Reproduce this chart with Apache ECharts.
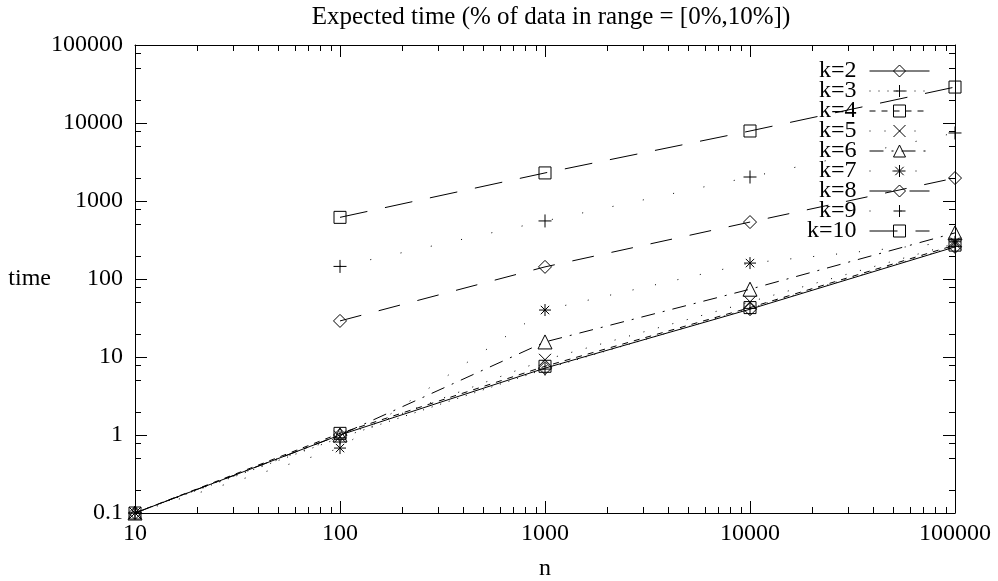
<!DOCTYPE html>
<html>
<head>
<meta charset="utf-8">
<title>Expected time</title>
<script src="https://cdn.jsdelivr.net/npm/echarts@6/dist/echarts.min.js"></script>
<style>
    html, body { margin: 0; padding: 0; background: #fff; }
    #main { width: 998px; height: 581px; }
</style>
</head>
<body>
<div id="main"></div>
<script>
// n 轴取值
var nValues = [10, 100, 1000, 10000, 100000];

// 各 k 的耗时
var k2 = [0.1, 1.0, 7.2, 41, 258];
var k3 = [0.1, 0.92, 7.0, 42, 262];
var k4 = [0.1, 1.05, 7.6, 43, 272];
var k5 = [0.1, 0.95, 9.2, 51, 285];
var k6 = [0.1, 1.0, 15.6, 74, 390];
var k7 = [0.1, 0.68, 40, 160, 300];
var k8 = ['-', 29, 143, 537, 1970];
var k9 = ['-', 145, 555, 2030, 7450];
var k10 = ['-', 617, 2290, 7900, 28900];

// 坐标轴范围
var xMin = 10, xMax = 100000;
var yMin = 0.1, yMax = 100000;

// 次刻度（每个数量级内的倍数）
var xMinorMult = [2, 3, 4, 5, 6, 7, 8, 9];
var yMinorMult = [2, 5, 8];

var FONT = "'Liberation Serif', 'DejaVu Serif', serif";

function toPairs(vals) {
    var out = [];
    for (var i = 0; i < nValues.length; i++) {
        out.push([nValues[i], vals[i]]);
    }
    return out;
}

function minorTicks(lo, hi, mult) {
    var out = [];
    for (var d = lo; d < hi; d *= 10) {
        for (var j = 0; j < mult.length; j++) {
            out.push(+(d * mult[j]).toPrecision(6));
        }
    }
    return out;
}

// 符号
var SYM_DIAMOND = 'path://M5,0L10,5L5,10L0,5Z';
var SYM_PLUS = 'path://M5,0L5,10M0,5L10,5';
var SYM_CROSS = 'path://M0,0L10,10M10,0L0,10';
var SYM_STAR = 'path://M5,0L5,10M0,5L10,5M1.5,1.5L8.5,8.5M8.5,1.5L1.5,8.5';

var lineDefs = [
    { name: 'k=2', data: k2, symbol: SYM_DIAMOND, size: 13, dash: 'solid' },
    { name: 'k=3', data: k3, symbol: SYM_PLUS, size: 13, dash: [1, 8] },
    { name: 'k=4', data: k4, symbol: 'rect', size: 12, dash: [6, 6] },
    { name: 'k=5', data: k5, symbol: SYM_CROSS, size: 12, dash: [1, 14] },
    { name: 'k=6', data: k6, symbol: 'triangle', size: 14, dash: [14, 8, 2, 8] },
    { name: 'k=7', data: k7, symbol: SYM_STAR, size: 12, dash: [1, 22] },
    { name: 'k=8', data: k8, symbol: SYM_DIAMOND, size: 13, dash: [22, 18] },
    { name: 'k=9', data: k9, symbol: SYM_PLUS, size: 13, dash: [1, 30] },
    { name: 'k=10', data: k10, symbol: 'rect', size: 12, dash: [28, 18] }
];

var series = lineDefs.map(function (d) {
    return {
        name: d.name,
        type: 'line',
        data: toPairs(d.data),
        symbol: d.symbol,
        symbolSize: d.size,
        showAllSymbol: true,
        clip: false,
        connectNulls: false,
        lineStyle: { color: '#000', width: 1, type: d.dash },
        itemStyle: { color: 'transparent', borderColor: '#000', borderWidth: 1 },
        emphasis: { disabled: true },
        z: 3
    };
});

// 次刻度用 custom 系列画（上下 / 左右 两边都有）
series.push({
    type: 'custom',
    silent: true,
    data: minorTicks(xMin, xMax, xMinorMult).map(function (v) { return [v, yMin]; }),
    renderItem: function (params, api) {
        var v = api.value(0);
        var b = api.coord([v, yMin]);
        var t = api.coord([v, yMax]);
        var x = Math.round(b[0]) + 0.5;
        return {
            type: 'group',
            children: [
                { type: 'line', shape: { x1: x, y1: b[1], x2: x, y2: b[1] - 6 }, style: { stroke: '#000', lineWidth: 1 } },
                { type: 'line', shape: { x1: x, y1: t[1], x2: x, y2: t[1] + 6 }, style: { stroke: '#000', lineWidth: 1 } }
            ]
        };
    },
    z: 2
});
series.push({
    type: 'custom',
    silent: true,
    data: minorTicks(yMin, yMax, yMinorMult).map(function (v) { return [xMin, v]; }),
    renderItem: function (params, api) {
        var v = api.value(1);
        var l = api.coord([xMin, v]);
        var r = api.coord([xMax, v]);
        var y = Math.round(l[1]) + 0.5;
        return {
            type: 'group',
            children: [
                { type: 'line', shape: { x1: l[0], y1: y, x2: l[0] + 6, y2: y }, style: { stroke: '#000', lineWidth: 1 } },
                { type: 'line', shape: { x1: r[0], y1: y, x2: r[0] - 6, y2: y }, style: { stroke: '#000', lineWidth: 1 } }
            ]
        };
    },
    z: 2
});

function plainLabel(v) {
    return String(+(+v).toPrecision(6));
}

var axisLineStyle = { show: true, lineStyle: { color: '#000', width: 1 } };
var majorTick = { show: true, inside: true, length: 12, lineStyle: { color: '#000', width: 1 } };

var option = {
    animation: false,
    backgroundColor: '#fff',
    title: {
        text: 'Expected time (% of data in range = [0%,10%])',
        left: 546,
        top: 0,
        textAlign: 'center',
        textStyle: { fontFamily: FONT, fontSize: 25, fontWeight: 'normal', color: '#000' }
    },
    grid: { left: 135, right: 43, top: 45, bottom: 68, containLabel: false, outerBoundsMode: 'none' },
    legend: {
        data: lineDefs.map(function (d) { return d.name; }),
        orient: 'vertical',
        align: 'right',
        right: 63,
        top: 54,
        itemWidth: 60,
        itemHeight: 15,
        itemGap: -4,
        selectedMode: false,
        itemStyle: { borderWidth: 1 },
        lineStyle: { width: 1 },
        textStyle: { fontFamily: FONT, fontSize: 24, color: '#000', padding: [0, 8, 0, 0] }
    },
    xAxis: [
        {
            type: 'log',
            logBase: 10,
            min: xMin,
            max: xMax,
            name: 'n',
            nameLocation: 'middle',
            nameGap: 44,
            nameMoveOverlap: false,
            nameTextStyle: { fontFamily: FONT, fontSize: 24, color: '#000' },
            axisLine: axisLineStyle,
            axisTick: majorTick,
            splitLine: { show: false },
            axisLabel: { fontFamily: FONT, fontSize: 24, color: '#000', margin: 9, formatter: plainLabel }
        },
        {
            type: 'log',
            logBase: 10,
            position: 'top',
            min: xMin,
            max: xMax,
            axisLine: axisLineStyle,
            axisTick: majorTick,
            splitLine: { show: false },
            axisLabel: { show: false }
        }
    ],
    yAxis: [
        {
            type: 'log',
            logBase: 10,
            min: yMin,
            max: yMax,
            name: 'time',
            nameLocation: 'middle',
            nameRotate: 0,
            nameGap: 84,
            nameMoveOverlap: false,
            nameTextStyle: { fontFamily: FONT, fontSize: 24, color: '#000' },
            axisLine: axisLineStyle,
            axisTick: majorTick,
            splitLine: { show: false },
            axisLabel: { fontFamily: FONT, fontSize: 24, color: '#000', margin: 12, formatter: plainLabel }
        },
        {
            type: 'log',
            logBase: 10,
            position: 'right',
            min: yMin,
            max: yMax,
            axisLine: axisLineStyle,
            axisTick: majorTick,
            splitLine: { show: false },
            axisLabel: { show: false }
        }
    ],
    series: series
};

var chart = echarts.init(document.getElementById('main'));
chart.setOption(option);
</script>
</body>
</html>
